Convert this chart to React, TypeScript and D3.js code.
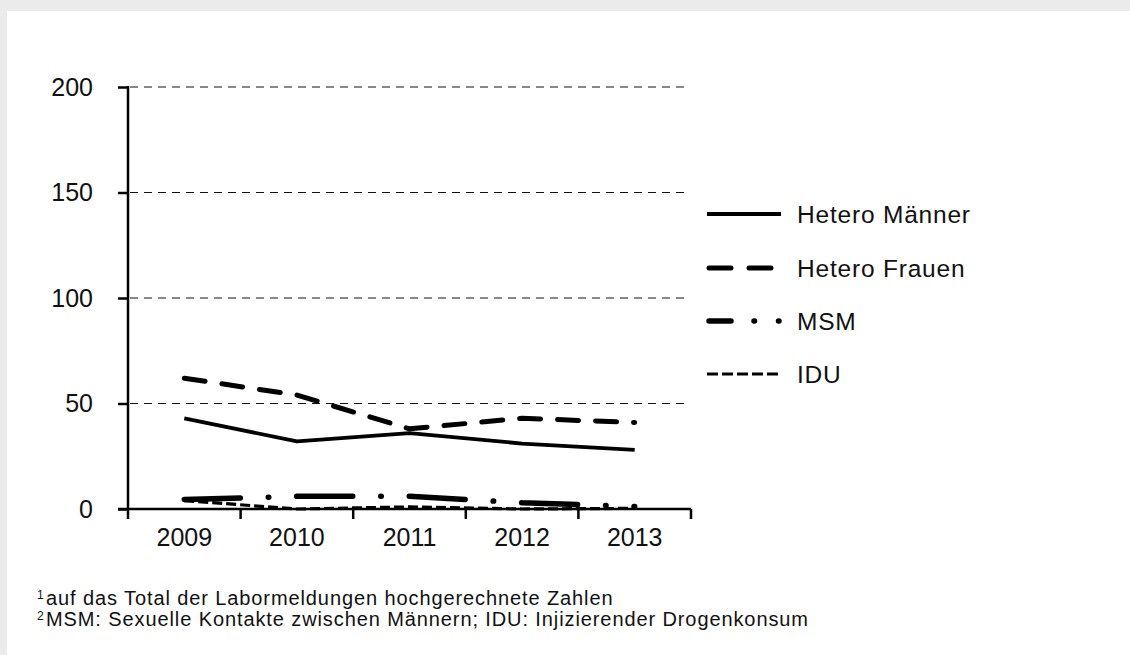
import React, { useEffect, useRef } from "react";
import * as d3 from "d3";

const years = ["2009", "2010", "2011", "2012", "2013"];
const heteroMaenner = [43, 32, 36, 31, 28];
const heteroFrauen = [62, 54, 38, 43, 41];
const msm = [4.5, 6, 6, 3, 1.2];
const idu = [4, 0, 1, 0, 0.3];
const yTicks = [0, 50, 100, 150, 200];
const footnotes = [
  { mark: "1", text: "auf das Total der Labormeldungen hochgerechnete Zahlen" },
  { mark: "2", text: "MSM: Sexuelle Kontakte zwischen Männern; IDU: Injizierender Drogenkonsum" },
];

const seriesList = [
  { name: "Hetero Männer", values: heteroMaenner, width: 3.8, dash: null, legendDash: null, cap: "butt" },
  { name: "Hetero Frauen", values: heteroFrauen, width: 5, dash: "21,17", legendDash: "22,18,22,100", cap: "round" },
  { name: "MSM", values: msm, width: 5.5, dash: "56,28,0.5,28", legendDash: "22,23,0.5,24,0.5,100", cap: "round" },
  { name: "IDU", values: idu, width: 3.2, dash: "10,4", legendDash: "11,4", cap: "butt" },
];

const W = 1130;
const H = 655;
const font = "'Liberation Sans', Arial, sans-serif";

export default function App() {
  const ref = useRef<SVGSVGElement | null>(null);

  useEffect(() => {
    const svg = d3.select(ref.current);
    svg.selectAll("*").remove();

    const left = 128;
    const right = 691;
    const top = 87;
    const bottom = 509;

    const x = d3.scaleBand().domain(years).range([left, right]);
    const y = d3.scaleLinear().domain([0, 200]).range([bottom, top]);

    svg.append("rect").attr("width", W).attr("height", H).attr("fill", "#ebebeb");
    svg.append("rect").attr("x", 7).attr("y", 11).attr("width", W - 7).attr("height", H - 11).attr("fill", "#fff");

    // gridlines
    svg.append("g")
      .selectAll("line")
      .data(yTicks.filter((d) => d > 0))
      .join("line")
      .attr("x1", left + 2)
      .attr("x2", right - 4)
      .attr("y1", (d) => y(d))
      .attr("y2", (d) => y(d))
      .attr("stroke", "#111")
      .attr("stroke-width", 1)
      .attr("stroke-dasharray", "8,6");

    // y axis
    const yAxis = svg.append("g")
      .attr("transform", `translate(${left},0)`)
      .call(d3.axisLeft(y).tickValues(yTicks).tickSize(10).tickPadding(25).tickFormat(d3.format("d")));
    yAxis.select(".domain").attr("stroke", "#000").attr("stroke-width", 2.5).attr("d", `M0,${bottom}V${top - 1}`);
    yAxis.selectAll(".tick line").attr("stroke", "#000").attr("stroke-width", 2.5);
    yAxis.selectAll("text").attr("font-family", font).attr("font-size", 25).attr("fill", "#111");

    // x axis
    const xAxis = svg.append("g")
      .attr("transform", `translate(0,${bottom})`)
      .call(d3.axisBottom(x).tickSize(0).tickPadding(19));
    xAxis.select(".domain").attr("stroke", "#000").attr("stroke-width", 2.5).attr("d", `M${left - 10},0H${right}`);
    xAxis.selectAll("text").attr("font-family", font).attr("font-size", 25).attr("fill", "#111");
    xAxis.append("g")
      .selectAll("line")
      .data(d3.range(years.length + 1))
      .join("line")
      .attr("x1", (i) => left + i * x.step())
      .attr("x2", (i) => left + i * x.step())
      .attr("y1", 0)
      .attr("y2", 10)
      .attr("stroke", "#000")
      .attr("stroke-width", 2.5);

    const line = d3.line<number>()
      .x((_, i) => (x(years[i]) as number) + x.bandwidth() / 2)
      .y((d) => y(d));

    const plot = svg.append("g");
    [...seriesList].reverse().forEach((s) => {
      plot.append("path")
        .attr("d", line(s.values))
        .attr("fill", "none")
        .attr("stroke", "#000")
        .attr("stroke-width", s.width)
        .attr("stroke-linecap", s.cap)
        .attr("stroke-linejoin", "round")
        .attr("stroke-dasharray", s.dash);
    });

    // legend
    const legendY = [214, 268, 321, 374];
    const lg = svg.append("g");
    seriesList.forEach((s, i) => {
      lg.append("line")
        .attr("x1", s.cap === "round" ? 709 : 707)
        .attr("x2", 781)
        .attr("y1", legendY[i])
        .attr("y2", legendY[i])
        .attr("stroke", "#000")
        .attr("stroke-width", s.width)
        .attr("stroke-linecap", s.cap)
        .attr("stroke-dasharray", s.legendDash);
      lg.append("text")
        .attr("x", 797)
        .attr("y", legendY[i])
        .attr("dy", "0.35em")
        .attr("font-family", font)
        .attr("font-size", 24.5)
        .attr("letter-spacing", 0.8)
        .attr("fill", "#111")
        .text(s.name);
    });

    // footnotes
    const fn = svg.append("g").attr("font-family", font).attr("fill", "#111");
    footnotes.forEach((f, i) => {
      const by = 605 + i * 20.7;
      fn.append("text").attr("x", 37).attr("y", by - 6).attr("font-size", 12).text(f.mark);
      fn.append("text")
        .attr("x", 46)
        .attr("y", by)
        .attr("font-size", 20)
        .attr("letter-spacing", 0.9)
        .text(f.text);
    });
  }, []);

  return (
    <svg
      ref={ref}
      width={W}
      height={H}
      style={{ display: "block", position: "absolute", left: 0, top: 0 }}
    />
  );
}
